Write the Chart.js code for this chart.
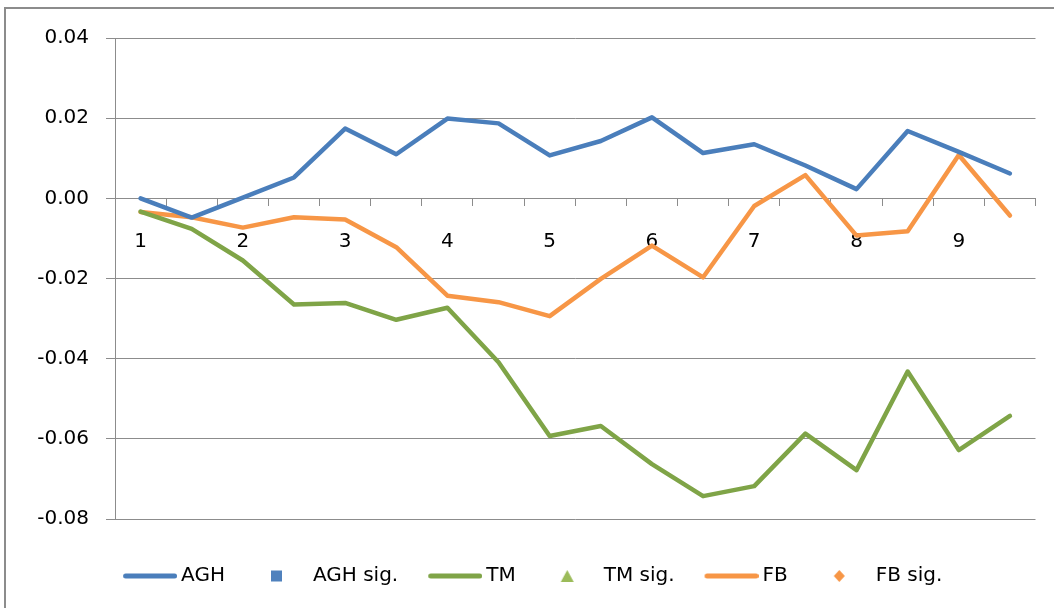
<!DOCTYPE html>
<html>
<head>
<meta charset="utf-8">
<script src="https://cdn.jsdelivr.net/npm/chart.js@4"></script>
<style>
  html, body { margin: 0; padding: 0; background: #fff; overflow: hidden; }
  #wrap { position: relative; width: 1054px; height: 608px; }
  #frame {
    position: absolute; left: 4px; top: 7px; width: 1200px; height: 700px;
    border-left: 2px solid #8c8c8c; border-top: 2px solid #8c8c8c;
  }
  #chart { position: absolute; left: 0; top: 0; }
</style>
</head>
<body>
<div id="wrap">
  <div id="frame"></div>
  <canvas id="chart" width="1054" height="608"></canvas>
</div>
<script>
// tick labels for the 18 categories (only every other one is labelled)
const categories = ["1", "", "2", "", "3", "", "4", "", "5", "", "6", "", "7", "", "8", "", "9", ""];

const agh = [0.0000, -0.0048, 0.0002, 0.0052, 0.0174, 0.0110, 0.0199, 0.0187, 0.0107,
             0.0143, 0.0202, 0.0113, 0.0135, 0.0082, 0.0023, 0.0168, 0.0116, 0.0062];
const tm  = [-0.0033, -0.0076, -0.0155, -0.0265, -0.0261, -0.0303, -0.0273, -0.0409, -0.0593,
             -0.0568, -0.0663, -0.0743, -0.0718, -0.0587, -0.0678, -0.0432, -0.0628, -0.0543];
const fb  = [-0.0034, -0.0047, -0.0073, -0.0047, -0.0053, -0.0122, -0.0243, -0.0259, -0.0294,
             -0.0201, -0.0118, -0.0197, -0.0019, 0.0058, -0.0093, -0.0082, 0.0108, -0.0043];

// no significant points are marked in this panel
const aghSig = [];
const tmSig = [];
const fbSig = [];

const yMin = -0.08;
const yMax = 0.04;
const yStep = 0.02;

const gridColor = "#8c8c8c";
const textFont = { family: "DejaVu Sans", size: 20 };

function symbol(draw) {
  const c = document.createElement("canvas");
  c.width = 62;
  c.height = 16;
  draw(c.getContext("2d"));
  return c;
}

function lineSymbol(color) {
  return symbol(g => {
    g.strokeStyle = color;
    g.lineWidth = 5;
    g.lineCap = "round";
    g.beginPath();
    g.moveTo(10.5, 8);
    g.lineTo(59.5, 8);
    g.stroke();
  });
}

const legendSymbols = {
  "AGH": lineSymbol("#4A7EBB"),
  "AGH sig.": symbol(g => { g.fillStyle = "#4F81BD"; g.fillRect(24, 2.5, 11, 11); }),
  "TM": lineSymbol("#7FA447"),
  "TM sig.": symbol(g => {
    g.fillStyle = "#9BBB59";
    g.beginPath(); g.moveTo(29.5, 2); g.lineTo(36, 14); g.lineTo(23, 14); g.closePath(); g.fill();
  }),
  "FB": lineSymbol("#F79646"),
  "FB sig.": symbol(g => {
    g.fillStyle = "#F79646";
    g.beginPath(); g.moveTo(29.5, 2); g.lineTo(35, 8); g.lineTo(29.5, 14); g.lineTo(24, 8); g.closePath(); g.fill();
  })
};

function lineSet(label, data, color) {
  return {
    label, data,
    borderColor: color, backgroundColor: color,
    borderWidth: 4.5, pointRadius: 0, tension: 0,
    borderJoinStyle: "round", borderCapStyle: "round"
  };
}

function markerSet(label, data, color, style) {
  return {
    label, data,
    showLine: false, borderColor: color, backgroundColor: color,
    pointStyle: style, pointRadius: 6
  };
}

new Chart(document.getElementById("chart"), {
  type: "line",
  data: {
    labels: categories,
    datasets: [
      lineSet("AGH", agh, "#4A7EBB"),
      markerSet("AGH sig.", aghSig, "#4F81BD", "rect"),
      lineSet("TM", tm, "#7FA447"),
      markerSet("TM sig.", tmSig, "#9BBB59", "triangle"),
      lineSet("FB", fb, "#F79646"),
      markerSet("FB sig.", fbSig, "#F79646", "rectRot")
    ]
  },
  options: {
    responsive: false,
    animation: false,
    layout: { padding: { left: 28, right: 18.5, top: 38, bottom: 12 } },
    scales: {
      x: {
        type: "category",
        position: { y: 0 },
        offset: true,
        grid: { offset: true, drawOnChartArea: false, drawTicks: true, tickLength: 7, color: gridColor },
        border: { display: true, color: gridColor },
        ticks: { autoSkip: false, maxRotation: 0, padding: 24, color: "#000", font: textFont }
      },
      y: {
        min: yMin,
        max: yMax,
        afterFit: s => { s.width = 87; },
        grid: { color: gridColor, tickLength: 9 },
        border: { display: true, color: gridColor },
        ticks: {
          stepSize: yStep,
          padding: 17,
          color: "#000",
          font: textFont,
          callback: v => (Math.abs(v) < 1e-9 ? 0 : v).toFixed(2)
        }
      }
    },
    plugins: {
      tooltip: { enabled: false },
      legend: {
        position: "bottom",
        title: { display: true, text: "", font: { size: 10, lineHeight: 1 }, padding: { top: 9, bottom: 0 } },
        labels: {
          usePointStyle: true,
          pointStyleWidth: 50,
          padding: 28,
          color: "#000",
          font: textFont,
          generateLabels: chart => Chart.defaults.plugins.legend.labels.generateLabels(chart)
            .map(item => Object.assign(item, { pointStyle: legendSymbols[item.text] }))
        }
      }
    }
  }
});
</script>
</body>
</html>
